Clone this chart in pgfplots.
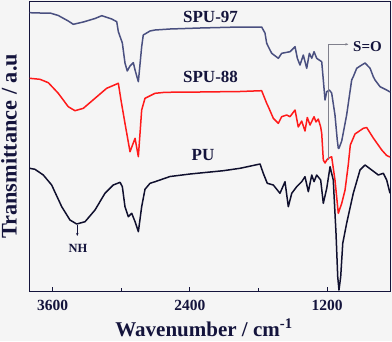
\documentclass[border=0pt]{standalone}
\usepackage{fontspec}
\setmainfont{Liberation Serif}
\usepackage{pgfplots}
\pgfplotsset{compat=1.18}
\usetikzlibrary{arrows.meta}
\definecolor{bgc}{HTML}{F5F5F5}
\definecolor{navy}{HTML}{14143C}
\definecolor{slate}{HTML}{4A5080}
\definecolor{redc}{HTML}{FF1A1A}
\definecolor{pucol}{HTML}{10102E}
\definecolor{arrowc}{HTML}{80808C}
\begin{document}
\begin{tikzpicture}
\fill[bgc, use as bounding box] (-29.7pt,-49.3pt) rectangle (362.3pt,291.7pt);
\begin{axis}[
  at={(0,0)}, anchor=south west,
  scale only axis, width=360.3pt, height=290.7pt,
  xmin=650, xmax=3800, ymin=0, ymax=290.7,
  x dir=reverse,
  axis line style={navy, line width=0.9pt},
  xtick={1200,2400,3600}, xticklabels={1200,2400,3600},
  minor xtick={1800,3000},
  ytick=\empty,
  xtick pos=bottom, tick align=inside,
  major tick length=5pt, minor tick length=4pt,
  tick style={navy, line width=0.7pt},
  xticklabel style={font=\fontsize{15.5}{15.5}\selectfont\bfseries, text=navy, anchor=base, yshift=-18.3pt},
  xlabel={Wavenumber / cm\textsuperscript{-1}},
  ylabel={Transmittance / a.u},
  xlabel style={font=\fontsize{21}{21}\selectfont\bfseries, text=navy, inner sep=0pt, at={(axis description cs:0.4838,-0.1535)}, anchor=base},
  ylabel style={font=\fontsize{22.3}{22.3}\selectfont\bfseries, text=navy, inner sep=0pt, at={(axis description cs:-0.0361,0.5)}, anchor=base},
  clip=false,
]
\addplot[slate, line width=1.5pt, line join=round] coordinates {
(3800,279) (3710,278.7) (3622,278.7) (3550,276.2) (3463,270.7) (3419,267.4) (3331,269.7) (3229,273.2) (3170,276) (3083,272.7) (3039,270) (3025,260) (2990,248.7) (2967,228.7) (2947,220.7) (2923,225.7) (2894,229) (2879,221.7) (2850,210) (2821,245) (2807,256.7) (2748,260.7) (2704,261.7) (2573,262.7) (2311,263.7) (1961,264.7) (1772,264.7) (1743,258.7) (1728,248.4) (1699,241.7) (1684,238.4) (1626,233.4) (1597,238.4) (1524,240) (1480,245) (1460,233.4) (1437,226.7) (1408,236.7) (1378,223.4) (1355,238.4) (1334,233.4) (1314,240) (1291,233.4) (1247,230) (1233,211.7) (1218,191.7) (1203,200) (1189,201) (1181,201.7) (1160,198.7) (1131,176.7) (1111,151.7) (1102,143.4) (1096,143.4) (1072,150.7) (1029,176.7) (985,211.7) (971,215) (941,223.4) (897,226.7) (868,228.7) (824,223.4) (796,215) (781,211.7) (737,205) (679,201.7) (650,199.7)
};
\addplot[redc, line width=1.5pt, line join=round] coordinates {
(3800,213.4) (3710,212.4) (3637,209) (3550,198.4) (3463,185) (3404,181) (3331,183.4) (3229,193.4) (3127,203.4) (3025,208.4) (3002,191.7) (2967,168.4) (2923,140) (2879,153.4) (2850,135) (2821,181.7) (2792,193.4) (2704,198.4) (2617,199.4) (2311,199.7) (1961,200.2) (1772,201) (1728,188.4) (1714,185) (1670,173.4) (1626,168.4) (1597,175) (1553,176.7) (1524,175) (1480,181.7) (1452,164.7) (1422,170.7) (1393,160.7) (1373,174.2) (1349,166.7) (1314,175) (1297,169.7) (1277,172.7) (1256,164.7) (1247,158.4) (1233,131.7) (1218,128.7) (1203,131.7) (1189,133.4) (1160,135) (1131,111.7) (1102,78.4) (1072,88.4) (1043,101.7) (1015,126.7) (997,146.7) (956,157.7) (883,163.4) (854,164.2) (796,153.7) (722,141.7) (679,136.2) (650,134.7)
};
\addplot[pucol, line width=1.5pt, line join=round] coordinates {
(3800,123.4) (3754,122.4) (3681,116.7) (3608,106.7) (3520,85) (3448,71.7) (3389,67.7) (3316,70) (3229,81.7) (3142,98.4) (3069,106.7) (3010,109.4) (2990,105) (2967,85) (2938,75) (2908,78.4) (2879,70) (2850,60) (2821,85) (2792,102.4) (2748,108.4) (2704,110) (2573,115.2) (2398,117.7) (2107,121) (1961,123.4) (1786,127.7) (1758,118.4) (1723,108.4) (1670,106.7) (1612,98.4) (1568,110) (1539,85) (1509,98.4) (1466,105) (1422,110) (1393,115) (1364,100) (1334,116.7) (1314,110) (1291,116.7) (1256,111.7) (1233,88.4) (1203,103.4) (1174,125) (1146,111.7) (1122,58.4) (1107,15) (1096,1.7) (1081,15) (1063,48.4) (1029,68.4) (971,98.4) (912,121.7) (868,126.7) (810,121.7) (752,116.7) (708,118.4) (679,111.7) (650,98.4)
};
\draw[arrowc, line width=0.5pt, -{Stealth[length=3pt,width=2.5pt]}] (axis cs:1189,131.7) -- (axis cs:1189,247.4) -- (axis cs:1014,247.4);
\draw[navy, line width=0.5pt, -{Stealth[length=3pt,width=2.5pt]}] (axis cs:3384,66.7) -- (axis cs:3384,55.7);
\node[text=navy, font=\fontsize{17}{17}\selectfont\bfseries] at (axis cs:2219,275) {SPU-97};
\node[text=navy, font=\fontsize{17}{17}\selectfont\bfseries] at (axis cs:2219,215) {SPU-88};
\node[text=navy, font=\fontsize{17}{17}\selectfont\bfseries] at (axis cs:2285,136.7) {PU};
\node[text=navy, font=\fontsize{12.5}{12.5}\selectfont\bfseries] at (axis cs:3378,43.4) {NH};
\node[text=navy, font=\fontsize{15}{15}\selectfont\bfseries] at (axis cs:847,245) {S=O};
\end{axis}
\end{tikzpicture}
\end{document}
